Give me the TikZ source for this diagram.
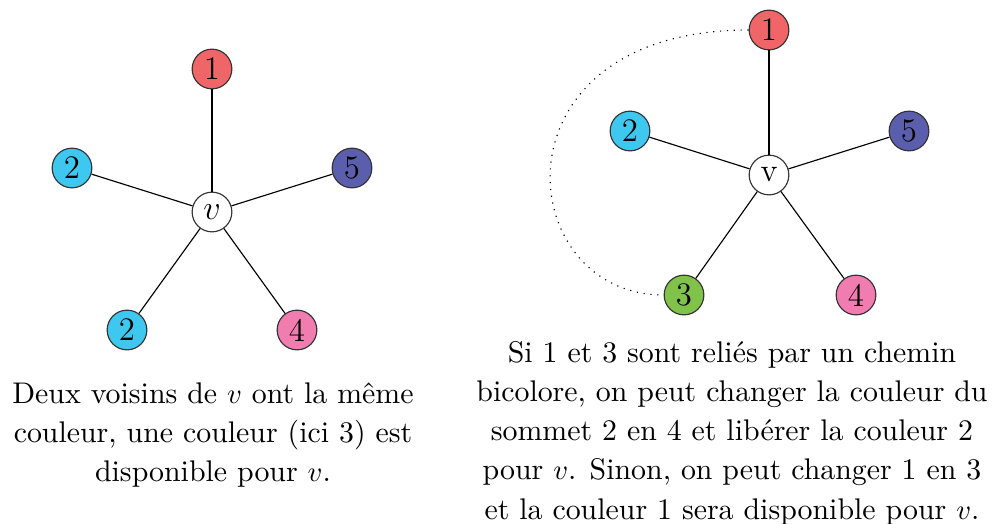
\documentclass[tikz,border=0pt]{standalone}
\usepackage{xcolor}
\definecolor{rouge}{RGB}{240,102,104}
\definecolor{cyan2}{RGB}{62,200,240}
\definecolor{indigo}{RGB}{90,94,172}
\definecolor{rose}{RGB}{240,124,176}
\definecolor{vert}{RGB}{128,194,74}
\begin{document}
\begin{tikzpicture}[x=0.35pt,y=-0.35pt,
    sommet/.style={shape=circle,draw=black!80,inner sep=0pt,minimum size=13.9pt,font=\fontsize{11.5}{13}\selectfont},
    legende/.style={align=center,font=\fontsize{10.45}{13.75}\selectfont}]
    \useasboundingbox (0,0) rectangle (998,523);
    % graphe de gauche
    \node[sommet,fill=white] (v) at (212,212) {$v$};
    \node[sommet,fill=rouge] (g1) at (212,69) {1};
    \node[sommet,fill=cyan2] (g2) at (72,168) {2};
    \node[sommet,fill=indigo] (g5) at (352,168) {5};
    \node[sommet,fill=cyan2] (g3) at (127,330) {2};
    \node[sommet,fill=rose] (g4) at (297,330) {4};
    \path (v) edge (g1);
    \path (v) edge (g2);
    \path (v) edge (g5);
    \path (v) edge (g3);
    \path (v) edge (g4);
    \node[legende] (tg) at (213,435) {Deux voisins de $v$ ont la même\\couleur, une couleur (ici 3) est\\disponible pour $v$.};
    % graphe de droite
    \node[sommet,fill=white] (w) at (769,175) {v};
    \node[sommet,fill=rouge] (d1) at (769,30) {1};
    \node[sommet,fill=cyan2] (d2) at (630,131) {2};
    \node[sommet,fill=indigo] (d5) at (909,131) {5};
    \node[sommet,fill=vert] (d3) at (684,295) {3};
    \node[sommet,fill=rose] (d4) at (856,295) {4};
    \path (w) edge (d1);
    \path (w) edge (d2);
    \path (w) edge (d5);
    \path (w) edge (d3);
    \path (w) edge (d4);
    \path (d1) edge[dotted, out=180, in=180, out looseness=2.4, in looseness=1.4] (d3);
    \node[legende] (td) at (732,433) {Si 1 et 3 sont reliés par un chemin\\bicolore, on peut changer la couleur du\\sommet 2 en 4 et libérer la couleur 2\\pour $v$. Sinon, on peut changer 1 en 3\\et la couleur 1 sera disponible pour $v$.};
\end{tikzpicture}
\end{document}
